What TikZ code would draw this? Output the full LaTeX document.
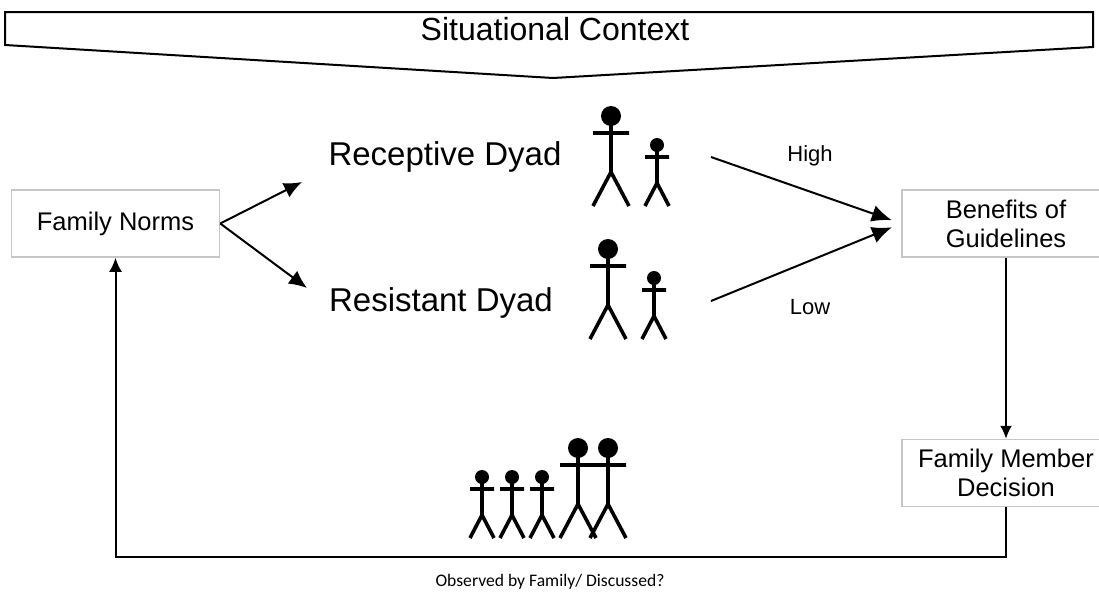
\documentclass[tikz,border=0pt]{standalone}
\usepackage{fontspec}
\setmainfont{Liberation Sans}
\newfontfamily\notefont{Carlito}
\usetikzlibrary{arrows.meta,positioning}

\begin{document}
\begin{tikzpicture}[
    x=0.5pt, y=-0.5pt,
    box/.style={draw=gray!45, line width=0.75pt, minimum width=104pt, minimum height=33.5pt, inner sep=0pt, align=center, font=\fontsize{12.75}{14.5}\selectfont},
    dyad/.style={font=\fontsize{16.5}{19}\selectfont, anchor=base},
    ratelabel/.style={font=\fontsize{11}{13}\selectfont},
    link/.style={line width=1pt, -{Latex[length=9pt, width=8pt]}},
    flow/.style={line width=1pt, -{Latex[length=10pt, width=8.5pt]}},
    figline/.style={line width=1.8pt},
    tallfig/.pic={
      \fill (0,-90) circle[radius=5pt];
      \draw[figline] (0,-84) -- (0,-34) (-18,-73) -- (18,-73) (-18,0) -- (0,-34) -- (18,0);
    },
    smallfig/.pic={
      \fill (0,-61) circle[radius=3.5pt];
      \draw[figline] (0,-57) -- (0,-23) (-12,-49) -- (12,-49) (-12,0) -- (0,-23) -- (12,0);
    }
    ]
    \useasboundingbox (0,0) rectangle (1099,600);

    % bandeira do contexto
    \draw[line width=1pt] (5,12) -- (1093,12) -- (1093,47) -- (553,78) -- (5,45) -- cycle;
    \node[font=\fontsize{16}{19}\selectfont, anchor=base] (context) at (555,40) {Situational Context};

    \node[box] (norms) at (115.5,223.5) {Family Norms};
    \node[box] (benefits) at (1006,223.5) {Benefits of\\Guidelines};
    \node[box] (decision) at (1006,473) {Family Member\\Decision};

    \node[dyad] (receptive) at (445,165) {Receptive Dyad};
    \node[dyad] (resistant) at (441,311) {Resistant Dyad};

    \coordinate (recin) at (302,182);
    \coordinate (resin) at (307,288);
    \draw[link] (norms.east) -- (recin);
    \draw[link] (norms.east) -- (resin);

    % bonecos
    \pic at (611,206) {tallfig};
    \pic at (657,206) {smallfig};
    \pic at (608,339) {tallfig};
    \pic at (654,339) {smallfig};
    \foreach \x in {482,512,542} \pic at (\x,538) {smallfig};
    \foreach \x in {578,608} \pic at (\x,538) {tallfig};

    \coordinate (hi) at (711,157);
    \coordinate (lo) at (711,301);
    \draw[flow, shorten >=5pt] (hi) -- (benefits.west);
    \draw[flow, shorten >=5pt] (lo) -- (benefits.west);
    \node[ratelabel] (high) at (810,156) {High};
    \node[ratelabel] (low) at (810,307) {Low};

    \draw[line width=1pt, -{Latex[length=6.5pt, width=6pt]}] (benefits) -- (decision);
    \draw[line width=1pt, -{Latex[length=7pt, width=6.5pt]}] (decision.south) -- ++(0,50) -| (norms.south);
    \node[font=\notefont\fontsize{8.8}{11}\selectfont] (observed) at (550,582) {Observed by Family/ Discussed?};
\end{tikzpicture}
\end{document}
